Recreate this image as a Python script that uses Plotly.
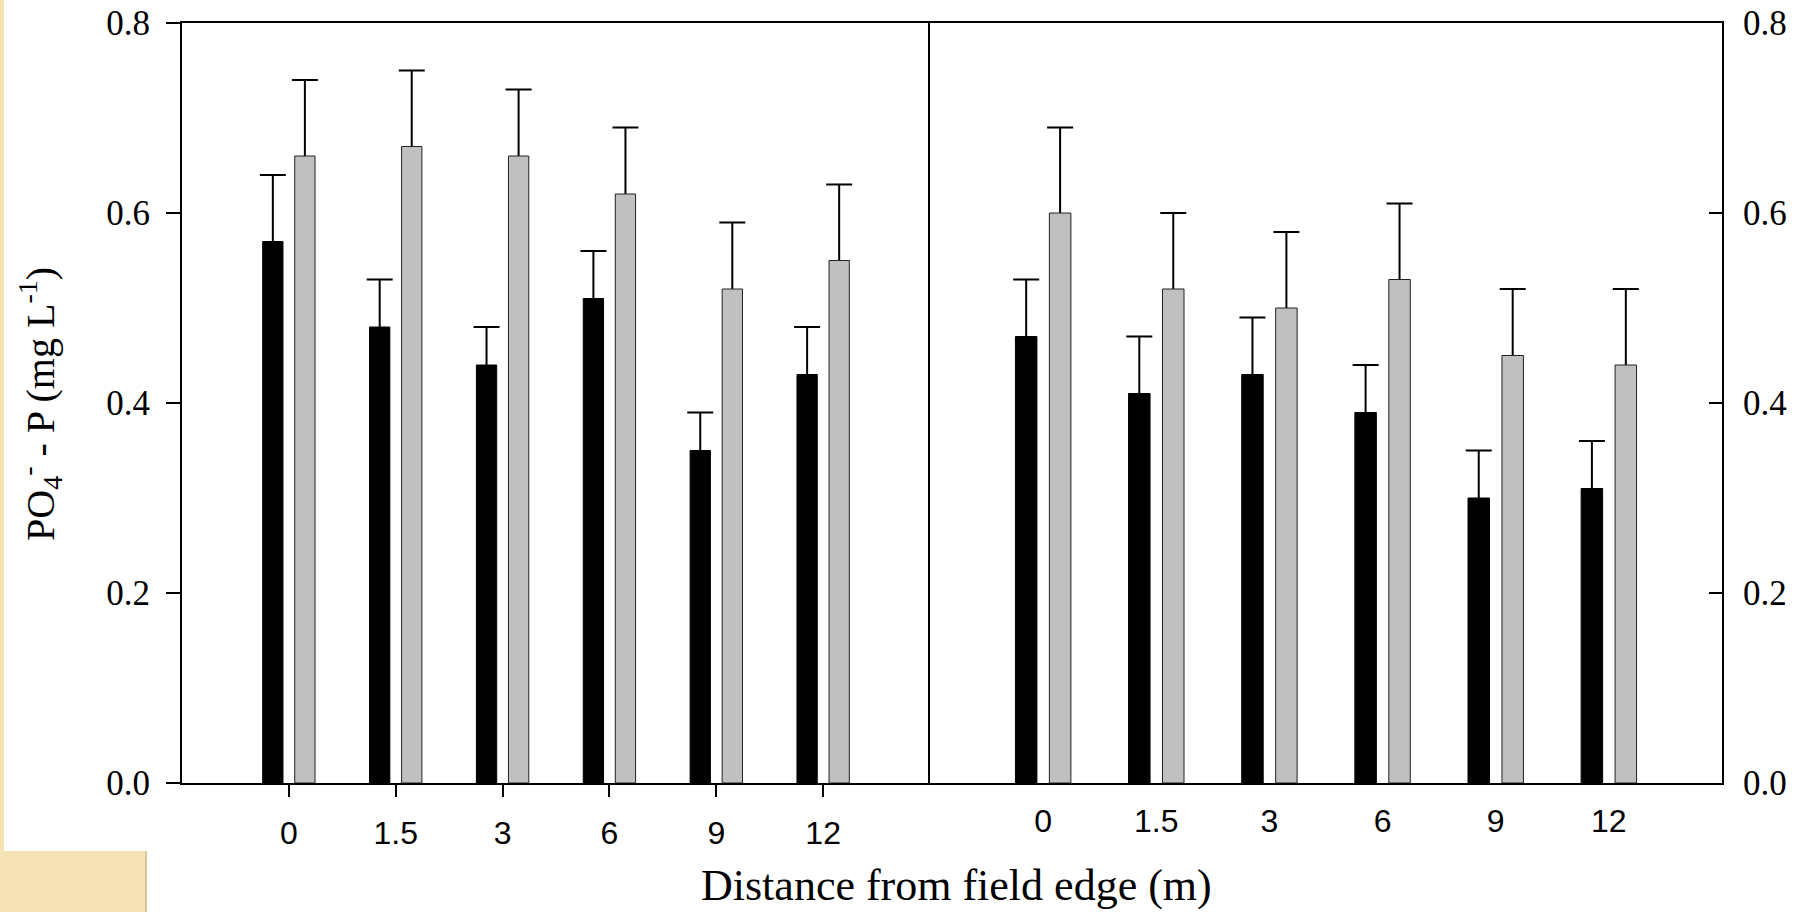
import plotly.graph_objects as go

# ---- data ----
distances = ['0', '1.5', '3', '6', '9', '12']

left_black = [0.57, 0.48, 0.44, 0.51, 0.35, 0.43]
left_black_err = [0.07, 0.05, 0.04, 0.05, 0.04, 0.05]
left_gray = [0.66, 0.67, 0.66, 0.62, 0.52, 0.55]
left_gray_err = [0.08, 0.08, 0.07, 0.07, 0.07, 0.08]

right_black = [0.47, 0.41, 0.43, 0.39, 0.30, 0.31]
right_black_err = [0.06, 0.06, 0.06, 0.05, 0.05, 0.05]
right_gray = [0.60, 0.52, 0.50, 0.53, 0.45, 0.44]
right_gray_err = [0.09, 0.08, 0.08, 0.08, 0.07, 0.08]

y_ticks = [0.0, 0.2, 0.4, 0.6, 0.8]
y_range = [0.0, 0.8]

x_title = 'Distance from field edge (m)'
y_title = 'PO<sub>4</sub><sup>-</sup> - P (mg L<sup>-1</sup>)'

BLACK = '#000000'
GRAY = '#c0c0c0'
SERIF = 'Liberation Serif, Times New Roman, serif'
SANS = 'Liberation Sans, Arial, sans-serif'

fig = go.Figure()


def add_panel(xa, ya, black, black_err, gray, gray_err, tag):
    # upper error bars (stem + top cap); the lower cap falls below the axis and is clipped
    for vals, errs, grp in ((black, black_err, 'b' + tag), (gray, gray_err, 'g' + tag)):
        tops = [v + e for v, e in zip(vals, errs)]
        fig.add_trace(go.Bar(
            x=distances, y=tops, xaxis=xa, yaxis=ya, offsetgroup=grp,
            marker=dict(color='rgba(0,0,0,0)', line=dict(width=0)),
            error_y=dict(type='data', symmetric=False, array=[0] * len(vals),
                         arrayminus=[t + 0.2 for t in tops],
                         color='black', thickness=2, width=13),
            hoverinfo='skip', showlegend=False))
    fig.add_trace(go.Bar(
        x=distances, y=black, xaxis=xa, yaxis=ya, offsetgroup='b' + tag,
        marker=dict(color=BLACK, line=dict(color='black', width=1)), showlegend=False))
    fig.add_trace(go.Bar(
        x=distances, y=gray, xaxis=xa, yaxis=ya, offsetgroup='g' + tag,
        marker=dict(color=GRAY, line=dict(color='#222222', width=1)), showlegend=False))


add_panel('x', 'y', left_black, left_black_err, left_gray, left_gray_err, 'L')
add_panel('x2', 'y2', right_black, right_black_err, right_gray, right_gray_err, 'R')

split = (930 - 182) / 1540

xcommon = dict(type='category', categoryorder='array', categoryarray=distances,
               range=[-1, 6], showline=True, linecolor='black', linewidth=2, mirror=True,
               showgrid=False, zeroline=False, ticklabelstandoff=9,
               tickfont=dict(family=SANS, size=32, color='black'))
ycommon = dict(range=y_range, tickvals=y_ticks, tickformat='.1f', showline=True,
               linecolor='black', linewidth=2, showgrid=False, zeroline=False,
               tickwidth=2, tickcolor='black',
               tickfont=dict(family=SERIF, size=35, color='black'))

fig.update_layout(
    width=1800, height=912,
    margin=dict(l=182, r=78, t=23, b=129, autoexpand=False),
    paper_bgcolor='white', plot_bgcolor='white',
    barmode='group', bargap=0.4, bargroupgap=0.367, showlegend=False,
    xaxis=dict(domain=[0, split], anchor='y', ticks='outside', ticklen=12, tickwidth=2,
               tickcolor='black', **xcommon),
    xaxis2=dict(domain=[split, 1], anchor='y2', ticks='', **xcommon),
    yaxis=dict(anchor='x', side='left', ticks='outside', ticklen=14,
               ticklabelstandoff=9, **ycommon),
    yaxis2=dict(anchor='x2', side='right', ticks='inside', ticklen=13, mirror=True,
                ticklabelstandoff=12, **ycommon),
    shapes=[
        # slide background decoration (beige)
        dict(type='rect', xref='paper', yref='paper', layer='below',
             x0=(0 - 182) / 1540, x1=(4 - 182) / 1540, y0=(783 - 851) / 760, y1=(783 - 0) / 760,
             fillcolor='#f5e3b6', line=dict(width=0)),
        dict(type='rect', xref='paper', yref='paper', layer='below',
             x0=(0 - 182) / 1540, x1=(147 - 182) / 1540, y0=(783 - 912) / 760, y1=(783 - 851) / 760,
             fillcolor='#f5e3b6', line=dict(width=0)),
        dict(type='rect', xref='paper', yref='paper', layer='below',
             x0=(145 - 182) / 1540, x1=(147 - 182) / 1540, y0=(783 - 912) / 760, y1=(783 - 851) / 760,
             fillcolor='#d8c79c', line=dict(width=0)),
    ],
    annotations=[
        dict(text=x_title, xref='paper', yref='paper', x=(956 - 182) / 1540, y=0,
             yshift=-102, xanchor='center', yanchor='middle', showarrow=False,
             font=dict(family=SERIF, size=44, color='black')),
        dict(text=y_title, xref='paper', yref='paper', x=(40 - 182) / 1540, y=(783 - 404) / 760,
             xanchor='center', yanchor='middle', textangle=-90, showarrow=False,
             font=dict(family=SERIF, size=40, color='black')),
    ],
)

fig.write_html('out.html')
